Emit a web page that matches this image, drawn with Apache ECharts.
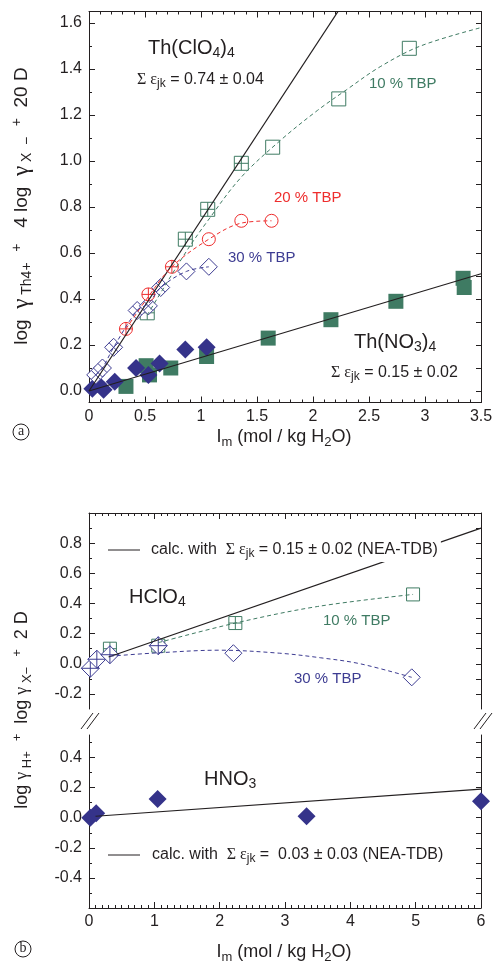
<!DOCTYPE html>
<html>
<head>
<meta charset="utf-8">
<script src="https://cdn.jsdelivr.net/npm/echarts@6/dist/echarts.min.js"></script>
<style>
html, body { margin: 0; padding: 0; background: #fff; }
#chart { width: 496px; height: 966px; }
</style>
</head>
<body>
<div id="chart"></div>
<script>
// ---- panel (a): Th(IV), Im 0..3.5 ----
const thNO3Squares = [[0.33, 0.02], [0.51, 0.11], [0.54, 0.07], [0.73, 0.10], [1.05, 0.15], [1.60, 0.23], [2.16, 0.31], [2.74, 0.39], [3.34, 0.49], [3.35, 0.45]];
const thNO3Diamonds = [[0.03, 0.01], [0.08, 0.03], [0.13, 0.005], [0.23, 0.04], [0.42, 0.10], [0.53, 0.07], [0.63, 0.12], [0.86, 0.18], [1.05, 0.19]];
const tbp10Crossed = [[0.52, 0.34], [0.86, 0.66], [1.06, 0.79], [1.36, 0.99]];
const tbp10Open = [[1.64, 1.06], [2.23, 1.27], [2.86, 1.49]];
const tbp10Curve = [[0.52, 0.33], [0.86, 0.60], [1.06, 0.74], [1.36, 0.93], [1.71, 1.09], [2.04, 1.22], [2.30, 1.31], [2.60, 1.41], [2.96, 1.50], [3.50, 1.58]];
const tbp20Crossed = [[0.33, 0.27], [0.53, 0.42], [0.74, 0.54]];
const tbp20Open = [[1.07, 0.66], [1.36, 0.74], [1.63, 0.74]];
const tbp20Curve = [[0.33, 0.27], [0.53, 0.41], [0.74, 0.54], [1.07, 0.66], [1.36, 0.73], [1.63, 0.74]];
const tbp30Crossed = [[0.06, 0.07], [0.12, 0.10], [0.22, 0.19], [0.43, 0.35], [0.53, 0.37], [0.64, 0.45]];
const tbp30Open = [[0.87, 0.52], [1.07, 0.54]];
const tbp30Curve = [[0.06, 0.07], [0.12, 0.10], [0.22, 0.19], [0.43, 0.35], [0.53, 0.38], [0.64, 0.45], [0.87, 0.52], [1.07, 0.54]];
const thClO4Fit = [[0, 0], [2.25, 1.67]];
const thNO3Fit = [[0, 0], [3.5, 0.51]];

// ---- panel (b): HClO4 / HNO3, Im 0..6 ----
const hcl10Crossed = [[0.32, 0.10], [1.06, 0.12], [2.24, 0.27]];
const hcl10Open = [[4.96, 0.46]];
const hcl10Curve = [[1.06, 0.14], [2.24, 0.27], [3.50, 0.38], [4.96, 0.46]];
const hcl30Crossed = [[0.02, -0.03], [0.12, 0.03], [0.32, 0.06], [1.06, 0.12]];
const hcl30Open = [[2.21, 0.07], [4.94, -0.09]];
const hcl30Curve = [[0.32, 0.05], [0.96, 0.07], [2.0, 0.09], [2.92, 0.07], [3.54, 0.04], [4.15, 0.0], [4.94, -0.09]];
const hclCalc = [[0.3, 0.045], [6, 0.9]];
const hnoDiamonds = [[0.02, 0.0], [0.11, 0.03], [1.05, 0.125], [3.33, 0.01], [6.0, 0.11]];
const hnoCalc = [[0.1, 0.01], [6, 0.19]];

// tick values
const aYMajor = [0, 0.2, 0.4, 0.6, 0.8, 1.0, 1.2, 1.4, 1.6];
const aYMinor = [0.1, 0.3, 0.5, 0.7, 0.9, 1.1, 1.3, 1.5];
const aYRight = [0, 0.1, 0.2, 0.3, 0.4, 0.5, 0.6, 0.7, 0.8, 0.9, 1.0, 1.1, 1.2, 1.3, 1.4, 1.5, 1.6];
const bHiMajor = [-0.2, 0, 0.2, 0.4, 0.6, 0.8];
const bHiMinor = [-0.1, 0.1, 0.3, 0.5, 0.7, 0.9];
const bHiRight = [-0.2, -0.1, 0, 0.1, 0.2, 0.3, 0.4, 0.5, 0.6, 0.7, 0.8, 0.9];
const bLoMajor = [-0.4, -0.2, 0, 0.2, 0.4];
const bLoMinor = [-0.5, -0.3, -0.1, 0.1, 0.3, 0.5];
const bLoRight = [-0.5, -0.4, -0.3, -0.2, -0.1, 0, 0.1, 0.2, 0.3, 0.4, 0.5];

const INK = '#231f20';
const GREEN = '#3f7b63';
const RED = '#ee2d2d';
const BLUE = '#3d3c92';
const NAVY = '#35338a';
const FONT = '"Liberation Sans", Arial, sans-serif';
const GREEK = '"Liberation Serif", "DejaVu Serif", serif';

const SQ_PLUS = 'path://M0,0L10,0L10,10L0,10Z M5,0L5,10 M0,5L10,5';
const DIA_X = 'path://M5,0L10,5L5,10L0,5Z M2.5,2.5L7.5,7.5 M7.5,2.5L2.5,7.5';
const DIA_PLUS = 'path://M5,0L10,5L5,10L0,5Z M5,0L5,10 M0,5L10,5';
const CIRC_PLUS = 'path://M0,5A5,5,0,1,1,10,5A5,5,0,1,1,0,5Z M5,0L5,10 M0,5L10,5';

function xAx(grid, pos, max, interval, split, labels) {
  return {
    type: 'value', gridIndex: grid, position: pos, min: 0, max: max, interval: interval,
    axisLine: { show: true, onZero: false, lineStyle: { color: INK, width: 1 } },
    axisTick: { inside: true, length: 6, lineStyle: { color: INK } },
    minorTick: { show: true, splitNumber: split, length: 3, lineStyle: { color: INK } },
    axisLabel: { show: labels, color: INK, fontSize: 16, fontFamily: FONT, margin: 6, showMinLabel: true, showMaxLabel: true },
    splitLine: { show: false }, minorSplitLine: { show: false }
  };
}

function yAx(grid, pos, min, max, ticks, len, labels, line) {
  return {
    type: 'value', gridIndex: grid, position: pos, offset: 0, min: min, max: max,
    axisLine: { show: line, onZero: false, lineStyle: { color: INK, width: 1 } },
    axisTick: { show: true, inside: true, length: len, customValues: ticks, lineStyle: { color: INK } },
    axisLabel: {
      show: labels, customValues: ticks, color: INK, fontSize: 16, fontFamily: FONT, margin: 7,
      formatter: function (v) { return v.toFixed(1); }
    },
    splitLine: { show: false }
  };
}

function fitLine(data, x, y, color, dashed) {
  return {
    type: 'line', data: data, xAxisIndex: x, yAxisIndex: y, showSymbol: false, silent: true,
    smooth: dashed ? 0.35 : false, clip: true,
    lineStyle: { color: color, width: dashed ? 1 : 1.2, type: dashed ? [4, 3] : 'solid' }
  };
}

function marks(data, x, y, symbol, size, color, filled) {
  return {
    type: 'scatter', data: data, xAxisIndex: x, yAxisIndex: y, symbol: symbol, symbolSize: size, silent: true,
    itemStyle: filled ? { color: color, opacity: 1 } : { color: '#fff', borderColor: color, borderWidth: 1, opacity: 1 }
  };
}

function rich(size) {
  return {
    s: { fontSize: Math.round(size * 0.72), fontFamily: FONT, lineHeight: Math.round(size * 0.55), verticalAlign: 'bottom' },
    p: { fontSize: Math.round(size * 0.72), fontFamily: FONT, lineHeight: Math.round(size * 0.55), verticalAlign: 'top' },
    g: { fontSize: size, fontFamily: GREEK },
    G: { fontSize: Math.round(size * 1.2), fontFamily: GREEK }
  };
}

function txt(x, y, text, size, color, extra, rot) {
  return {
    type: 'text', x: x, y: y, z: 100, rotation: rot || 0,
    style: Object.assign({
      text: text, fontSize: size, fontFamily: FONT, fill: color, align: 'left', verticalAlign: 'middle',
      lineHeight: Math.round(size * 1.25), rich: rich(size)
    }, extra || {})
  };
}

function seg(x1, y1, x2, y2) {
  return { type: 'line', z: 100, shape: { x1: x1, y1: y1, x2: x2, y2: y2 }, style: { stroke: INK, lineWidth: 1 } };
}

function brk(x) {
  return [seg(x - 9, 729, x + 3, 713), seg(x - 3, 729, x + 9, 713)];
}

const chart = echarts.init(document.getElementById('chart'), null, { renderer: 'canvas' });

chart.setOption({
  animation: false,
  backgroundColor: '#fff',
  grid: [
    { left: 89, top: 11.5, width: 392, height: 391 },
    { left: 89, top: 513, width: 392, height: 196 },
    { left: 89, top: 735, width: 392, height: 173 }
  ],
  xAxis: [
    xAx(0, 'bottom', 3.5, 0.5, 5, true),
    xAx(0, 'top', 3.5, 0.5, 5, false),
    xAx(1, 'top', 6, 1, 10, false),
    xAx(2, 'bottom', 6, 1, 10, true)
  ],
  yAxis: [
    yAx(0, 'left', -0.05, 1.65, aYMajor, 6, true, true),
    yAx(0, 'left', -0.05, 1.65, aYMinor, 3, false, false),
    yAx(0, 'right', -0.05, 1.65, aYRight, 5, false, true),
    yAx(1, 'left', -0.3, 1.0, bHiMajor, 6, true, true),
    yAx(1, 'left', -0.3, 1.0, bHiMinor, 3, false, false),
    yAx(1, 'right', -0.3, 1.0, bHiRight, 5, false, true),
    yAx(2, 'left', -0.6, 0.55, bLoMajor, 6, true, true),
    yAx(2, 'left', -0.6, 0.55, bLoMinor, 3, false, false),
    yAx(2, 'right', -0.6, 0.55, bLoRight, 5, false, true)
  ],
  series: [
    // panel (a)
    fitLine(thClO4Fit, 0, 0, INK, false),
    fitLine(thNO3Fit, 0, 0, INK, false),
    fitLine(tbp10Curve, 0, 0, GREEN, true),
    fitLine(tbp20Curve, 0, 0, RED, true),
    fitLine(tbp30Curve, 0, 0, BLUE, true),
    marks(thNO3Squares, 0, 0, 'rect', 15, GREEN, true),
    marks(thNO3Diamonds, 0, 0, 'diamond', 18, NAVY, true),
    marks(tbp10Crossed, 0, 0, SQ_PLUS, 14, GREEN, false),
    marks(tbp10Open, 0, 0, 'rect', 14, GREEN, false),
    marks(tbp30Crossed, 0, 0, DIA_X, 18, BLUE, false),
    marks(tbp30Open, 0, 0, 'diamond', 17, BLUE, false),
    marks(tbp20Crossed, 0, 0, CIRC_PLUS, 13, RED, false),
    marks(tbp20Open, 0, 0, 'circle', 13, RED, false),
    // panel (b) upper: HClO4
    fitLine(hclCalc, 2, 3, INK, false),
    fitLine(hcl10Curve, 2, 3, GREEN, true),
    fitLine(hcl30Curve, 2, 3, BLUE, true),
    marks(hcl10Crossed, 2, 3, SQ_PLUS, 13, GREEN, false),
    marks(hcl10Open, 2, 3, 'rect', 13, GREEN, false),
    marks(hcl30Crossed, 2, 3, DIA_PLUS, 18, BLUE, false),
    marks(hcl30Open, 2, 3, 'diamond', 17, BLUE, false),
    // panel (b) lower: HNO3
    fitLine(hnoCalc, 3, 6, INK, false),
    marks(hnoDiamonds, 3, 6, 'diamond', 18, NAVY, true)
  ],
  graphic: [
    // panel (a) labels
    txt(148, 48, 'Th(ClO{s|4}){s|4}', 20, INK),
    txt(137, 80, '{g|Σ ε}{s|jk} = 0.74 ± 0.04', 16, INK),
    txt(369, 84, '10 % TBP', 15, GREEN),
    txt(274, 198, '20 % TBP', 15, RED),
    txt(228, 258, '30 % TBP', 15, BLUE),
    txt(354, 342, 'Th(NO{s|3}){s|4}', 20, INK),
    txt(331, 373, '{g|Σ ε}{s|jk} = 0.15 ± 0.02', 16, INK),
    txt(284, 437, 'I{s|m} (mol / kg H{s|2}O)', 18, INK, { align: 'center' }),
    txt(22, 206, 'log  {G|γ}{s| Th4+}  {p|+}   4 log  {G|γ}{s| X  −}  {p|+}  20 D', 19, INK, { align: 'center' }, Math.PI / 2),
    { type: 'circle', z: 100, shape: { cx: 21, cy: 432, r: 8 }, style: { fill: 'none', stroke: INK, lineWidth: 1 } },
    txt(21, 431, 'a', 14, INK, { align: 'center', fontFamily: GREEK }),
    // panel (b) labels
    seg(108, 550, 140, 550),
    txt(151, 550, 'calc. with  {g|Σ ε}{s|jk} = 0.15 ± 0.02 (NEA-TDB)', 16, INK, { backgroundColor: '#fff', padding: [2, 3, 2, 0] }),
    txt(129, 597, 'HClO{s|4}', 20, INK),
    txt(323, 621, '10 % TBP', 15, GREEN),
    txt(294, 679, '30 % TBP', 15, BLUE),
    txt(204, 779, 'HNO{s|3}', 20, INK),
    seg(108, 855, 140, 855),
    txt(152, 855, 'calc. with  {g|Σ ε}{s|jk} =  0.03 ± 0.03 (NEA-TDB)', 16, INK),
    txt(284, 952, 'I{s|m} (mol / kg H{s|2}O)', 18, INK, { align: 'center' }),
    txt(22, 710, 'log {g|γ}{s| H+}  {p|+}  log {g|γ}{s| X−}  {p|+}  2 D', 18, INK, { align: 'center' }, Math.PI / 2),
    { type: 'circle', z: 100, shape: { cx: 23, cy: 949, r: 8 }, style: { fill: 'none', stroke: INK, lineWidth: 1 } },
    txt(23, 948, 'b', 14, INK, { align: 'center', fontFamily: GREEK })
  ].concat(brk(90), brk(483))
});
</script>
</body>
</html>
